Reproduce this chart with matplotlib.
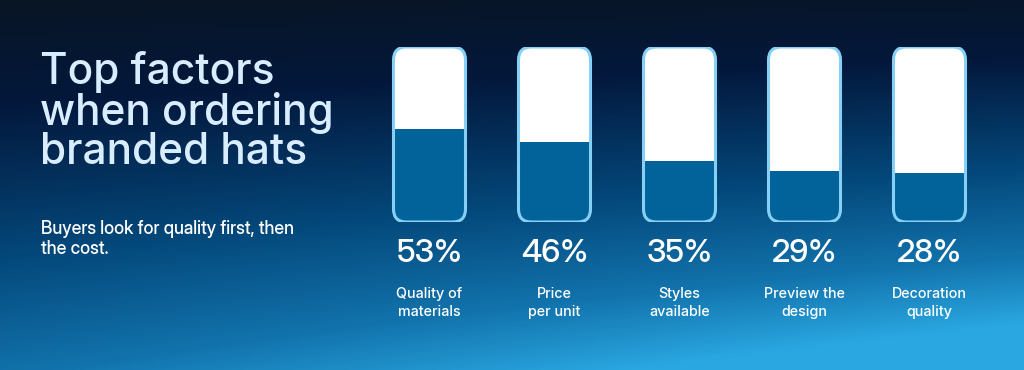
import numpy as np
import matplotlib
matplotlib.use("Agg")
import matplotlib.pyplot as plt
from matplotlib.patches import FancyBboxPatch, Rectangle
from matplotlib.colors import LinearSegmentedColormap
import matplotlib.transforms as mtransforms

# ---- data ----
categories = ["Quality of\nmaterials", "Price\nper unit", "Styles\navailable",
              "Preview the\ndesign", "Decoration\nquality"]
values = [53, 46, 35, 29, 28]
title = "Top factors\nwhen ordering\nbranded hats"
subtitle = "Buyers look for quality first, then\nthe cost."

DISP = ["Inter Display", "DejaVu Sans"]
FONT = ["Inter", "DejaVu Sans"]
W, H = 1024, 370
fig = plt.figure(figsize=(W / 100, H / 100), dpi=100)

# ---- background gradient ----
bg = fig.add_axes([0, 0, 1, 1])
bg.set_axis_off()
yy, xx = np.mgrid[0:1:200j, 0:1:400j]
t = np.clip(0.78 * yy + 0.30 * xx * yy + 0.05 * xx, 0, 1)
cmap = LinearSegmentedColormap.from_list(
    "bg", [(0.0, "#081525"), (0.22, "#03183c"), (0.55, "#04497c"),
           (0.8, "#1273ac"), (1.0, "#2aa7e1")])
bg.imshow(t, cmap=cmap, aspect="auto", extent=[0, 1, 0, 1], origin="upper",
          interpolation="bilinear", vmin=0, vmax=1)
bg.set_xlim(0, 1)
bg.set_ylim(0, 1)

# ---- title / subtitle ----
fig.text(40 / W, 1 - 51 / H, title, color="#d8edff", fontsize=30.5,
         family=FONT, weight=500, va="top", ha="left", linespacing=0.96)
fig.text(41 / W, 1 - 220 / H, subtitle, color="white", fontsize=12.8,
         family=DISP, weight=500, va="top", ha="left", linespacing=1.15)

# ---- bars ----
x0_px, step_px = 429.5, 125.0
left_px = x0_px - step_px / 2
right_px = left_px + step_px * len(values)
top_px, bot_px = 47, 222
ax = fig.add_axes([left_px / W, 1 - bot_px / H, (right_px - left_px) / W,
                   (bot_px - top_px) / H])
ax.set_xlim(-0.5, len(values) - 0.5)
ax.set_ylim(0, 100)
ax.set_axis_off()
ax.patch.set_alpha(0)

bw = 72 / step_px
px_per_y = (bot_px - top_px) / 100
rad_px = 13
aspect = step_px / px_per_y
for i, v in enumerate(values):
    kw = dict(boxstyle=f"round,pad=0,rounding_size={rad_px / step_px}",
              mutation_aspect=aspect)
    shell = FancyBboxPatch((i - bw / 2, 0), bw, 100, facecolor="white",
                           edgecolor="none", zorder=1, **kw)
    ax.add_patch(shell)
    fill = Rectangle((i - bw / 2, 0), bw, v, facecolor="#02639b",
                     edgecolor="none", zorder=2)
    ax.add_patch(fill)
    fill.set_clip_path(shell)
    border = FancyBboxPatch((i - bw / 2, 0), bw, 100, facecolor="none",
                            edgecolor="#86d0f6", linewidth=2.2, zorder=3, **kw)
    ax.add_patch(border)

trans = mtransforms.blended_transform_factory(ax.transData, fig.transFigure)
for i, (v, c) in enumerate(zip(values, categories)):
    ax.text(i, 1 - 254 / H, f"{v}%", transform=trans, ha="center",
            va="center", color="white", fontsize=23, family=DISP,
            weight=500)
    ax.text(i, 1 - 303 / H, c, transform=trans, ha="center", va="center",
            color="white", fontsize=10.3, family=FONT, weight=500,
            linespacing=1.4)

fig.savefig("out.png", dpi=100)
